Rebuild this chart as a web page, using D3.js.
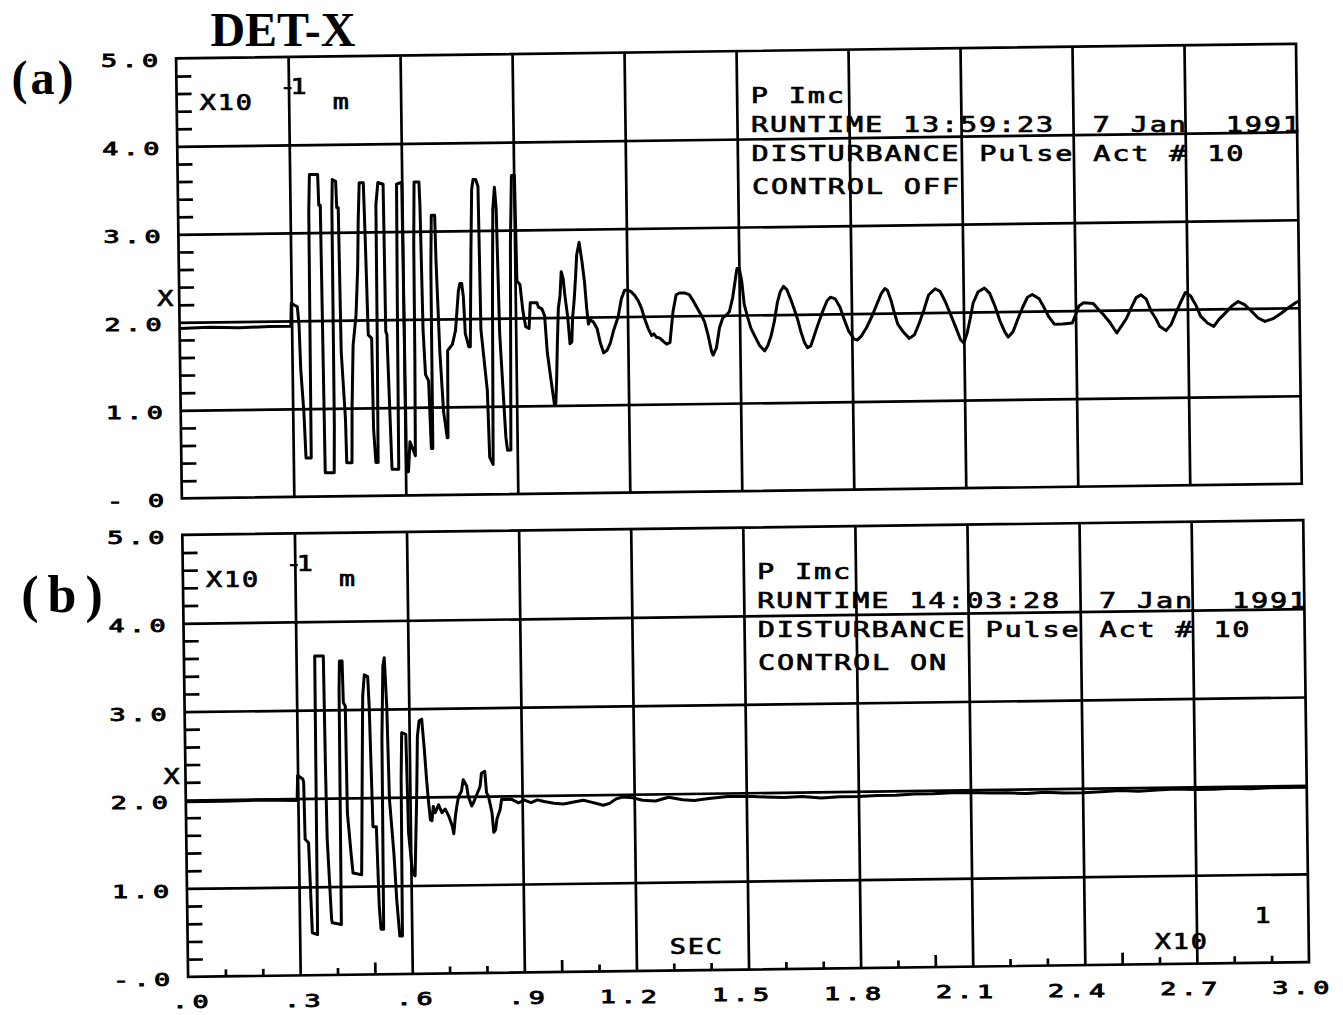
<!DOCTYPE html>
<html>
<head>
<meta charset="utf-8">
<script src="https://cdn.jsdelivr.net/npm/d3@7"></script>
<style>
  html, body { margin: 0; padding: 0; background: #fff; }
  svg { display: block; }
</style>
</head>
<body>
<svg id="chart" width="1343" height="1015"></svg>
<script>
// ---- Axis ticks and labels (displacement in units of 10^-1 m, time in units of 10 s) ----
const yGridValues = [1, 2, 3, 4];
const yLabelValues = [0, 1, 2, 3, 4, 5];
const yLabelsA = ["- 0", "1.0", "2.0", "3.0", "4.0", "5.0"];
const yLabelsB = ["-.0", "1.0", "2.0", "3.0", "4.0", "5.0"];
const xGridValues = [0.3, 0.6, 0.9, 1.2, 1.5, 1.8, 2.1, 2.4, 2.7];
const xLabelValues = [0, 0.3, 0.6, 0.9, 1.2, 1.5, 1.8, 2.1, 2.4, 2.7, 3.0];
const xLabels = [".0", ".3", ".6", ".9", "1.2", "1.5", "1.8", "2.1", "2.4", "2.7", "3.0"];

// ---- Plot header blocks ----
const headerA = ["P Imc", "RUNTIME 13:59:23  7 Jan  1991", "DISTURBANCE Pulse Act # 10", "CONTROL OFF"];
const headerB = ["P Imc", "RUNTIME 14:03:28  7 Jan  1991", "DISTURBANCE Pulse Act # 10", "CONTROL ON"];

// ---- DET-X response, control off: [time, displacement] ----
const traceControlOff = [
  [0.000,1.93],[0.080,1.94],[0.160,1.93],[0.240,1.94],[0.298,1.94],
  [0.300,2.20],[0.316,2.16],[0.320,1.95],[0.323,1.45],[0.330,0.95],[0.334,0.44],[0.348,0.44],
  [0.350,3.24],[0.353,3.66],[0.375,3.66],[0.377,3.31],[0.381,3.31],[0.385,0.27],[0.409,0.27],
  [0.411,0.80],[0.412,3.28],[0.414,3.60],[0.423,3.58],[0.425,3.28],[0.429,3.28],[0.432,1.64],
  [0.441,0.88],[0.443,0.38],[0.457,0.38],[0.459,0.99],[0.464,1.71],[0.473,2.06],[0.479,2.59],
  [0.482,3.12],[0.486,3.56],[0.497,3.56],[0.500,2.97],[0.505,1.83],[0.514,1.79],[0.516,0.76],
  [0.521,0.38],[0.527,0.38],[0.529,1.83],[0.530,3.31],[0.536,3.56],[0.550,3.54],[0.552,1.87],
  [0.555,1.83],[0.564,0.30],[0.582,0.30],[0.584,2.25],[0.586,3.54],[0.600,3.56],[0.603,0.27],
  [0.608,0.27],[0.613,0.61],[0.627,0.45],[0.629,1.56],[0.630,2.86],[0.633,3.56],[0.646,3.56],
  [0.648,3.28],[0.652,1.87],[0.657,1.37],[0.665,1.30],[0.670,0.53],[0.674,0.53],[0.675,2.59],
  [0.678,3.18],[0.687,3.18],[0.689,2.67],[0.696,1.64],[0.704,0.95],[0.713,0.65],[0.715,0.65],
  [0.717,1.64],[0.730,1.71],[0.739,1.87],[0.748,2.32],[0.752,2.40],[0.757,2.40],[0.761,2.25],
  [0.765,1.83],[0.774,1.68],[0.778,1.68],[0.783,2.78],[0.787,3.47],[0.791,3.58],[0.798,3.58],
  [0.804,3.50],[0.807,1.87],[0.822,1.18],[0.826,0.42],[0.835,0.34],[0.839,2.25],[0.843,3.24],
  [0.848,3.49],[0.852,3.24],[0.857,1.83],[0.865,1.10],[0.870,0.65],[0.874,0.50],[0.883,0.50],
  [0.889,2.86],[0.894,3.62],[0.902,3.62],[0.905,2.42],[0.913,2.38],[0.920,2.08],[0.927,1.90],
  [0.936,1.88],[0.940,2.17],[0.958,2.17],[0.962,2.12],[0.971,2.10],[0.978,2.02],[0.984,1.60],
  [0.993,1.29],[1.001,1.02],[1.005,1.02],[1.008,1.29],[1.011,1.68],[1.015,2.10],[1.020,2.25],
  [1.024,2.52],[1.029,2.44],[1.033,2.25],[1.040,2.00],[1.045,1.70],[1.050,1.72],[1.053,2.00],
  [1.058,2.21],[1.062,2.44],[1.066,2.71],[1.073,2.85],[1.080,2.63],[1.086,2.40],[1.091,2.10],
  [1.095,1.92],[1.100,1.97],[1.109,1.94],[1.118,1.87],[1.126,1.71],[1.135,1.59],[1.144,1.62],
  [1.153,1.70],[1.162,1.84],[1.175,2.00],[1.184,2.20],[1.193,2.30],[1.202,2.30],[1.211,2.28],
  [1.220,2.24],[1.229,2.18],[1.238,2.09],[1.246,1.97],[1.255,1.86],[1.264,1.78],[1.270,1.80],
  [1.277,1.76],[1.286,1.75],[1.296,1.71],[1.304,1.68],[1.313,1.70],[1.317,1.86],[1.322,2.05],
  [1.331,2.24],[1.340,2.26],[1.353,2.26],[1.366,2.24],[1.375,2.18],[1.384,2.11],[1.397,2.01],
  [1.406,1.93],[1.415,1.78],[1.424,1.59],[1.428,1.55],[1.437,1.63],[1.446,1.86],[1.455,1.97],
  [1.464,2.00],[1.473,2.04],[1.482,2.19],[1.491,2.43],[1.495,2.53],[1.501,2.53],[1.507,2.39],
  [1.513,2.12],[1.522,1.97],[1.530,1.85],[1.539,1.77],[1.553,1.65],[1.566,1.59],[1.575,1.65],
  [1.584,1.76],[1.593,1.92],[1.602,2.14],[1.610,2.26],[1.619,2.32],[1.628,2.28],[1.637,2.18],
  [1.646,2.07],[1.655,1.95],[1.664,1.80],[1.673,1.68],[1.681,1.62],[1.690,1.64],[1.699,1.75],
  [1.708,1.86],[1.721,2.01],[1.735,2.15],[1.744,2.19],[1.757,2.17],[1.770,2.07],[1.779,1.95],
  [1.792,1.80],[1.806,1.71],[1.815,1.70],[1.825,1.74],[1.840,1.84],[1.855,1.97],[1.868,2.10],
  [1.880,2.22],[1.890,2.28],[1.897,2.26],[1.906,2.15],[1.915,2.00],[1.924,1.87],[1.937,1.79],
  [1.954,1.71],[1.968,1.75],[1.981,1.88],[1.994,2.03],[2.007,2.20],[2.025,2.27],[2.038,2.24],
  [2.051,2.13],[2.065,1.98],[2.078,1.84],[2.091,1.69],[2.100,1.65],[2.109,1.76],[2.118,1.93],
  [2.126,2.10],[2.140,2.23],[2.157,2.27],[2.171,2.21],[2.184,2.07],[2.197,1.90],[2.210,1.77],
  [2.219,1.71],[2.232,1.77],[2.246,1.92],[2.259,2.05],[2.272,2.16],[2.285,2.19],[2.303,2.14],
  [2.316,2.04],[2.329,1.93],[2.343,1.85],[2.365,1.85],[2.391,1.86],[2.400,1.95],[2.409,2.05],
  [2.422,2.09],[2.448,2.08],[2.462,2.01],[2.475,1.95],[2.492,1.86],[2.510,1.74],[2.523,1.82],
  [2.537,1.91],[2.550,2.03],[2.563,2.14],[2.576,2.17],[2.590,2.12],[2.603,1.98],[2.616,1.89],
  [2.625,1.81],[2.642,1.76],[2.656,1.83],[2.669,1.96],[2.682,2.08],[2.695,2.19],[2.709,2.15],
  [2.722,2.05],[2.735,1.92],[2.753,1.84],[2.770,1.80],[2.784,1.88],[2.801,1.95],[2.819,2.03],
  [2.836,2.08],[2.854,2.04],[2.871,1.97],[2.889,1.89],[2.907,1.85],[2.929,1.88],[2.951,1.94],
  [2.973,2.01],[2.991,2.06],[3.000,2.08]
];

// ---- DET-X response, control on: [time, displacement] ----
const traceControlOn = [
  [0.000,1.98],[0.100,1.98],[0.200,1.99],[0.298,1.98],
  [0.300,2.26],[0.314,2.22],[0.316,2.18],[0.318,1.54],[0.327,1.50],[0.334,0.48],[0.348,0.46],
  [0.350,3.61],[0.373,3.61],[0.375,2.29],[0.377,1.54],[0.386,0.63],[0.388,0.59],[0.412,0.57],
  [0.414,3.23],[0.416,3.55],[0.423,3.55],[0.425,3.08],[0.430,3.04],[0.432,1.83],[0.441,1.34],
  [0.445,1.15],[0.468,1.13],[0.470,1.57],[0.473,2.28],[0.477,3.15],[0.482,3.39],[0.491,3.37],
  [0.494,3.03],[0.500,1.67],[0.509,1.67],[0.514,0.77],[0.518,0.51],[0.525,0.51],[0.527,2.66],
  [0.532,3.49],[0.536,3.58],[0.541,3.03],[0.545,1.98],[0.555,1.37],[0.561,0.84],[0.568,0.43],
  [0.575,0.43],[0.577,2.20],[0.580,2.73],[0.591,2.71],[0.595,1.60],[0.604,1.15],[0.611,1.11],
  [0.618,2.01],[0.622,2.69],[0.627,2.86],[0.634,2.88],[0.640,2.54],[0.645,2.20],[0.649,1.97],
  [0.654,1.74],[0.658,1.73],[0.662,1.89],[0.667,1.82],[0.676,1.91],[0.685,1.82],[0.694,1.86],
  [0.703,1.78],[0.712,1.67],[0.716,1.58],[0.721,1.78],[0.725,1.89],[0.730,2.00],[0.738,2.06],
  [0.743,2.19],[0.752,2.12],[0.756,2.00],[0.765,1.89],[0.770,1.93],[0.779,2.02],[0.788,2.11],
  [0.792,2.26],[0.801,2.28],[0.805,2.04],[0.810,2.00],[0.819,1.81],[0.823,1.59],[0.828,1.62],
  [0.832,1.74],[0.841,1.85],[0.845,1.96],[0.854,1.96],[0.872,1.96],[0.890,1.92],[0.906,1.95],
  [0.924,1.92],[0.941,1.95],[0.959,1.93],[0.985,1.91],[1.011,1.90],[1.038,1.92],[1.064,1.94],
  [1.082,1.92],[1.099,1.90],[1.117,1.88],[1.134,1.90],[1.152,1.95],[1.169,1.97],[1.196,1.96],
  [1.222,1.93],[1.257,1.92],[1.292,1.96],[1.330,1.93],[1.360,1.92],[1.400,1.94],[1.450,1.96],
  [1.500,1.96],[1.550,1.95],[1.600,1.94],[1.650,1.95],[1.700,1.93],[1.750,1.94],[1.800,1.94],
  [1.850,1.95],[1.900,1.95],[1.950,1.96],[2.000,1.96],[2.050,1.97],[2.100,1.97],[2.150,1.96],
  [2.200,1.96],[2.250,1.95],[2.300,1.96],[2.350,1.95],[2.400,1.95],[2.450,1.96],[2.500,1.97],
  [2.550,1.96],[2.600,1.97],[2.650,1.98],[2.700,1.97],[2.750,1.97],[2.800,1.98],[2.850,1.97],
  [2.900,1.98],[2.950,1.98],[3.000,1.98]
];

// ---- Drawing ----
const INK = "#000";
const svg = d3.select("#chart");

// the plotter sheet sits slightly tilted on the page
const TILT = -0.75, CX = 671, CY = 507;
const sheet = svg.append("g").attr("transform", `rotate(${TILT} ${CX} ${CY})`);
const labels = svg.append("g");
const rad = TILT * Math.PI / 180;
function tilt(px, py) {
  const dx = px - CX, dy = py - CY;
  return [CX + dx * Math.cos(rad) - dy * Math.sin(rad),
          CY + dx * Math.sin(rad) + dy * Math.cos(rad)];
}

const MONO = "DejaVu Sans Mono, Liberation Mono, monospace";
const SERIF = "Liberation Serif, Times New Roman, serif";

// Plotter-style lettering: fixed pitch, given cap height, horizontally widened glyphs
const styleHeader = { cap: 16, pitch: 19.0, wide: 1.3, ink: 0.7 };
const styleTick = { cap: 13, pitch: 20.5, wide: 1.5, ink: 0.9 };
const styleUnit = { cap: 15, pitch: 18, wide: 1.3, ink: 0.7 };
const styleExp = { cap: 15, pitch: 11, wide: 1.3, ink: 0.7 };

function plotText(str, x, y, st, anchor) {
  const fs = st.cap / 0.729;
  const adv = 0.602 * fs;
  const ls = st.pitch / st.wide - adv;
  const width = (str.length - 1) * st.pitch + adv * st.wide;
  let x0 = x;
  if (anchor === "end") x0 = x - width;
  if (anchor === "middle") x0 = x - width / 2;
  const [tx, ty] = tilt(x0, y);
  return labels.append("text")
    .attr("transform", `translate(${tx.toFixed(1)},${ty.toFixed(1)}) scale(${st.wide},1)`)
    .attr("font-family", MONO)
    .attr("font-size", fs.toFixed(2))
    .attr("letter-spacing", ls.toFixed(2))
    .style("white-space", "pre")
    .attr("fill", INK)
    .attr("stroke", INK)
    .attr("stroke-width", st.ink)
    .text(str);
}

function serifText(str, x, y, size, spacing, anchor) {
  const [tx, ty] = tilt(x, y);
  return labels.append("text")
    .attr("x", tx.toFixed(1)).attr("y", ty.toFixed(1))
    .attr("text-anchor", anchor || "start")
    .attr("font-family", SERIF).attr("font-weight", "bold")
    .attr("font-size", size).attr("letter-spacing", spacing)
    .attr("fill", INK)
    .text(str);
}

const panels = [
  { top: 52, bottom: 492, left: 182, right: 1302, trace: traceControlOff,
    header: headerA, yLabels: yLabelsA, letter: "(a)", letterXY: [17, 85],
    letterSize: 48, letterSpacing: 3, xAxis: false },
  { top: 528.5, bottom: 970.5, left: 182, right: 1303, trace: traceControlOn,
    header: headerB, yLabels: yLabelsB, letter: "(b)", letterXY: [20, 603],
    letterSize: 52, letterSpacing: 9, xAxis: true }
];

const LINE_W = 2.7;

panels.forEach(p => {
  const x = d3.scaleLinear().domain([0, 3]).range([p.left, p.right]);
  const y = d3.scaleLinear().domain([0, 5]).range([p.bottom, p.top]);
  const g = sheet.append("g");
  const h = p.bottom - p.top;
  const w = p.right - p.left;

  // vertical grid lines
  const gx = g.append("g").attr("transform", `translate(0,${p.bottom})`)
    .call(d3.axisBottom(x).tickValues(xGridValues).tickSize(-h).tickFormat(""));
  // horizontal grid lines
  const gy = g.append("g").attr("transform", `translate(${p.left},0)`)
    .call(d3.axisLeft(y).tickValues(yGridValues).tickSize(-w).tickFormat(""));
  // minor y ticks every 0.2, pointing into the plot
  const minorY = d3.range(1, 25).map(i => i * 0.2).filter(v => Math.abs(v - Math.round(v)) > 1e-6);
  const gmy = g.append("g").attr("transform", `translate(${p.left},0)`)
    .call(d3.axisLeft(y).tickValues(minorY).tickSize(-15).tickFormat(""));
  [gx, gy, gmy].forEach(a => {
    a.select(".domain").remove();
    a.selectAll(".tick line").attr("stroke", INK).attr("stroke-width", LINE_W);
  });

  if (p.xAxis) {
    // minor x ticks every 0.1, longer on the half-units
    const minorX = d3.range(1, 30).map(i => i / 10).filter(v => Math.abs(v / 0.3 - Math.round(v / 0.3)) > 1e-6);
    const gmx = g.append("g").attr("transform", `translate(0,${p.bottom})`)
      .call(d3.axisBottom(x).tickValues(minorX).tickSize(-7).tickFormat(""));
    gmx.select(".domain").remove();
    gmx.selectAll(".tick line")
      .attr("y2", d => Math.abs(d * 2 - Math.round(d * 2)) < 1e-6 ? -12 : -7)
      .attr("stroke", INK).attr("stroke-width", LINE_W);
  }

  // frame
  g.append("rect")
    .attr("x", p.left).attr("y", p.top).attr("width", w).attr("height", h)
    .attr("fill", "none").attr("stroke", INK).attr("stroke-width", LINE_W);

  // signal
  const line = d3.line().x(d => x(d[0])).y(d => y(d[1]));
  g.append("path")
    .datum(p.trace)
    .attr("d", line)
    .attr("fill", "none")
    .attr("stroke", INK)
    .attr("stroke-width", 3)
    .attr("stroke-linejoin", "round");

  // y tick labels
  yLabelValues.forEach((v, i) => {
    plotText(p.yLabels[i], p.left - 18, y(v) + 8, styleTick, "end");
  });
  // y axis name
  plotText("X", p.left - 22, y(2.27) + 7, styleUnit);

  // unit annotation inside the frame: X10^-1 m
  plotText("X10", p.left + 23, p.top + 52, styleUnit);
  plotText("-1", p.left + 103, p.top + 37, styleExp);
  plotText("m", p.left + 156, p.top + 53, styleUnit);

  // header block
  const headerOffsets = [52, 81, 110, 143];
  p.header.forEach((s, i) => {
    plotText(s, p.left + 574, p.top + headerOffsets[i], styleHeader);
  });

  if (p.xAxis) {
    xLabelValues.forEach((v, i) => {
      plotText(xLabels[i], x(v) + 20, p.bottom + 31, styleTick, "end");
    });
    plotText("SEC", 664, p.bottom - 17, styleUnit);
    plotText("X10", 1149, p.bottom - 15, styleUnit);
    plotText("1", 1249, p.bottom - 40, styleUnit);
  }

  // panel letter
  serifText(p.letter, p.letterXY[0], p.letterXY[1], p.letterSize, p.letterSpacing);
});

// title
serifText("DET-X", 289, 41, 48, 0, "middle");
</script>
</body>
</html>
